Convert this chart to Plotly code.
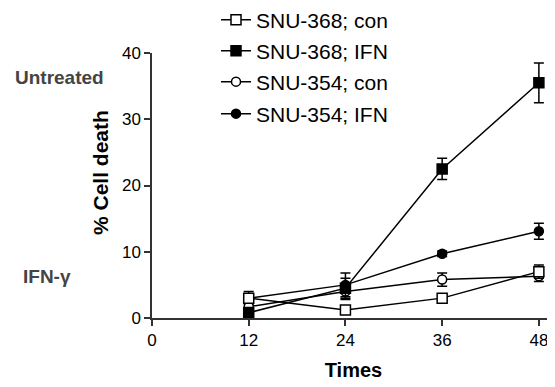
import plotly.graph_objects as go

times = [12, 24, 36, 48]
series_names = ["SNU-368; con", "SNU-368; IFN", "SNU-354; con", "SNU-354; IFN"]
snu368_con = [3.0, 1.2, 3.0, 7.0]
snu368_con_err = [0.6, 0.4, 0.4, 1.0]
snu368_ifn = [0.8, 4.5, 22.5, 35.5]
snu368_ifn_err = [0.8, 1.5, 1.6, 3.0]
snu354_con = [1.7, 4.0, 5.8, 6.3]
snu354_con_err = [0.6, 1.2, 1.0, 0.8]
snu354_ifn = [3.0, 5.0, 9.7, 13.1]
snu354_ifn_err = [1.0, 1.8, 0.4, 1.2]
x_ticks = [0, 12, 24, 36, 48]
y_ticks = [0, 10, 20, 30, 40]

FONT = "Liberation Sans, Arial, sans-serif"
W, H = 547, 379  # page body has an 8px margin

specs = [
    # (name, y, err, symbol, legend row)
    (series_names[3], snu354_ifn, snu354_ifn_err, "circle", 3),
    (series_names[2], snu354_con, snu354_con_err, "circle-open", 2),
    (series_names[1], snu368_ifn, snu368_ifn_err, "square", 1),
    (series_names[0], snu368_con, snu368_con_err, "square-open", 0),
]
legend_rows_px = [12, 43, 74, 106]  # row centres, px from top of figure

fig = go.Figure()
for name, y, err, sym, row in specs:
    is_open = sym.endswith("open")
    fig.add_trace(go.Scatter(
        x=times, y=y, name=name, mode="lines+markers",
        legend="legend" if row == 0 else f"legend{row + 1}",
        line=dict(color="black", width=1.5),
        marker=dict(symbol=sym.replace("-open", ""), size=10 if "square" in sym else 9,
                    color="white" if is_open else "black",
                    line=dict(color="black", width=1.5)),
        error_y=dict(type="data", array=err, visible=True, color="black",
                     thickness=1.5, width=5),
    ))

legend_common = dict(xref="container", yref="container", x=208 / W,
                     xanchor="left", yanchor="middle", bgcolor="rgba(0,0,0,0)",
                     font=dict(size=21, family=FONT, color="black"))
legends = {}
for i, ypx in enumerate(legend_rows_px):
    key = "legend" if i == 0 else f"legend{i + 1}"
    legends[key] = dict(legend_common, y=1 - ypx / H)

fig.update_layout(
    width=W, height=H,
    margin=dict(l=144, r=0, t=45, b=69, autoexpand=False),
    paper_bgcolor="white", plot_bgcolor="white",
    font=dict(family=FONT, size=17, color="black"),
    showlegend=True,
    **legends,
    xaxis=dict(range=[0, 50], tickvals=x_ticks, showline=True, linecolor="#333",
               linewidth=1.5, ticks="outside", ticklen=6, tickwidth=1.5,
               tickcolor="#333", showgrid=False, zeroline=False, automargin=False,
               title=dict(text="<b>Times</b>", font=dict(size=20), standoff=14)),
    yaxis=dict(range=[0, 40], tickvals=y_ticks, showline=True, linecolor="#333",
               linewidth=1.5, ticks="outside", ticklen=6, tickwidth=1.5,
               tickcolor="#333", showgrid=False, zeroline=False, automargin=False),
)

fig.add_annotation(text="<b>% Cell death</b>", xref="paper", yref="paper",
                   x=(100 - 152) / 403, y=(318 - 173) / 265, showarrow=False,
                   xanchor="center", yanchor="middle",
                   textangle=-90, font=dict(size=21, family=FONT, color="black"))
fig.add_annotation(text="<b>Untreated</b>", xref="paper", yref="paper",
                   x=(13 - 152) / 403, y=(318 - 77) / 265, showarrow=False,
                   xanchor="left", yanchor="middle",
                   font=dict(size=19, color="#444", family=FONT))
fig.add_annotation(text="<b>IFN-γ</b>", xref="paper", yref="paper",
                   x=(21 - 152) / 403, y=(318 - 276) / 265, showarrow=False,
                   xanchor="left", yanchor="middle",
                   font=dict(size=19, color="#444", family=FONT))

fig.write_html("out.html")
